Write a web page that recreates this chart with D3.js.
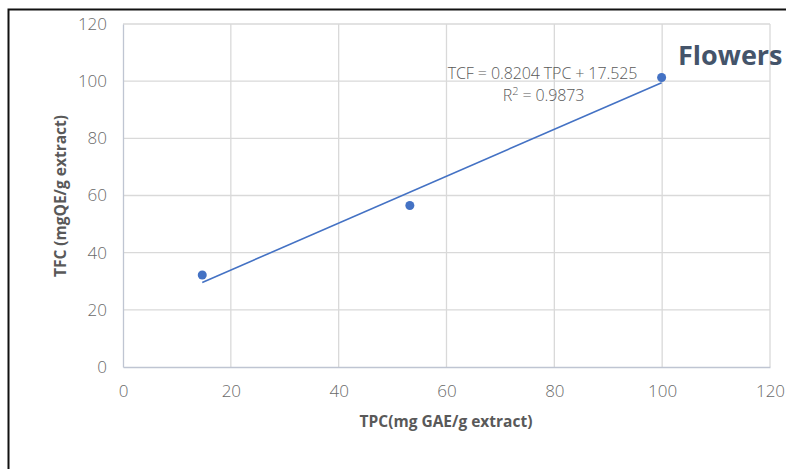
<!DOCTYPE html>
<html>
<head>
<meta charset="utf-8">
<script src="https://cdn.jsdelivr.net/npm/d3@7"></script>
<style>
  body { margin: 0; background: #fff; }
  text { font-family: "Open Sans", "Liberation Sans", sans-serif; }
</style>
</head>
<body>
<div id="chart"></div>
<script>
(function() {
  // data
  var tpc = [14.7, 53.2, 99.9];
  var tfc = [32.2, 56.5, 101.3];
  var slope = 0.8204, intercept = 17.525;
  var xTicks = [0, 20, 40, 60, 80, 100, 120];
  var yTicks = [0, 20, 40, 60, 80, 100, 120];
  var eqLabel = "TCF = 0.8204 TPC + 17.525";
  var r2Label = "0.9873";

  var W = 786, H = 469;
  var margin = {top: 24, left: 123, right: 16, bottom: 102};
  var width = W - margin.left - margin.right,
      height = H - margin.top - margin.bottom;

  var svg = d3.select("#chart").append("svg")
      .attr("width", W).attr("height", H);

  // outer frame
  svg.append("rect")
      .attr("x", 8.5).attr("y", 9.5)
      .attr("width", 800).attr("height", 500)
      .attr("fill", "none").attr("stroke", "#111").attr("stroke-width", 2);

  var g = svg.append("g")
      .attr("transform", "translate(" + margin.left + "," + margin.top + ")");

  var x = d3.scaleLinear().domain([0, 120]).range([0, width]);
  var y = d3.scaleLinear().domain([0, 120]).range([height, 0]);

  // grid
  g.selectAll(".vgrid").data(xTicks.slice(1)).enter().append("line")
      .attr("x1", d => x(d)).attr("x2", d => x(d))
      .attr("y1", 0).attr("y2", height)
      .attr("stroke", "#d9d9d9").attr("stroke-width", 1.3);
  g.selectAll(".hgrid").data(yTicks.slice(1)).enter().append("line")
      .attr("x1", 0).attr("x2", width)
      .attr("y1", d => y(d)).attr("y2", d => y(d))
      .attr("stroke", "#d9d9d9").attr("stroke-width", 1.3);

  // axes
  var xAxis = g.append("g")
      .attr("transform", "translate(0," + height + ")")
      .call(d3.axisBottom(x).tickValues(xTicks).tickSize(0).tickPadding(18));
  var yAxis = g.append("g")
      .call(d3.axisLeft(y).tickValues(yTicks).tickSize(0).tickPadding(16));
  [xAxis, yAxis].forEach(function(a) {
    a.select(".domain").attr("stroke", "#bfc5d2").attr("stroke-width", 1.3);
    a.selectAll("text").attr("fill", "#6a6a6a")
      .style("font-size", "17px").style("font-weight", 300);
  });

  // trend line
  var x0 = d3.min(tpc), x1 = d3.max(tpc);
  g.append("line")
      .attr("x1", x(x0)).attr("y1", y(slope * x0 + intercept))
      .attr("x2", x(x1)).attr("y2", y(slope * x1 + intercept))
      .attr("stroke", "#4472c4").attr("stroke-width", 1.6);

  // points
  g.selectAll(".pt").data(tpc).enter().append("circle")
      .attr("cx", d => x(d)).attr("cy", (d, i) => y(tfc[i]))
      .attr("r", 4.5).attr("fill", "#4472c4");

  // equation
  g.append("text")
      .attr("x", x(77.8)).attr("y", y(100.9))
      .attr("text-anchor", "middle").attr("fill", "#595959")
      .style("font-size", "16px").style("font-weight", 300).style("letter-spacing", "-0.1px")
      .text(eqLabel);
  var r2 = g.append("text")
      .attr("x", x(78)).attr("y", y(93.2))
      .attr("text-anchor", "middle").attr("fill", "#595959")
      .style("font-size", "16px").style("font-weight", 300).style("letter-spacing", "-0.1px");
  r2.append("tspan").text("R");
  r2.append("tspan").attr("dy", -6).style("font-size", "11px").text("2");
  r2.append("tspan").attr("dy", 6).text(" = " + r2Label);

  // series name
  svg.append("text")
      .attr("x", 678).attr("y", 65)
      .attr("fill", "#44546a").style("font-size", "27px").style("font-weight", 700)
      .text("Flowers");

  // axis titles
  svg.append("text")
      .attr("x", 446).attr("y", 427)
      .attr("text-anchor", "middle").attr("fill", "#595959")
      .style("font-size", "15.5px").style("font-weight", 700)
      .text("TPC(mg GAE/g extract)");
  svg.append("text")
      .attr("transform", "translate(66,196) rotate(-90)")
      .attr("text-anchor", "middle").attr("fill", "#595959")
      .style("font-size", "15.5px").style("font-weight", 700)
      .text("TFC (mgQE/g extract)");
})();
</script>
</body>
</html>
